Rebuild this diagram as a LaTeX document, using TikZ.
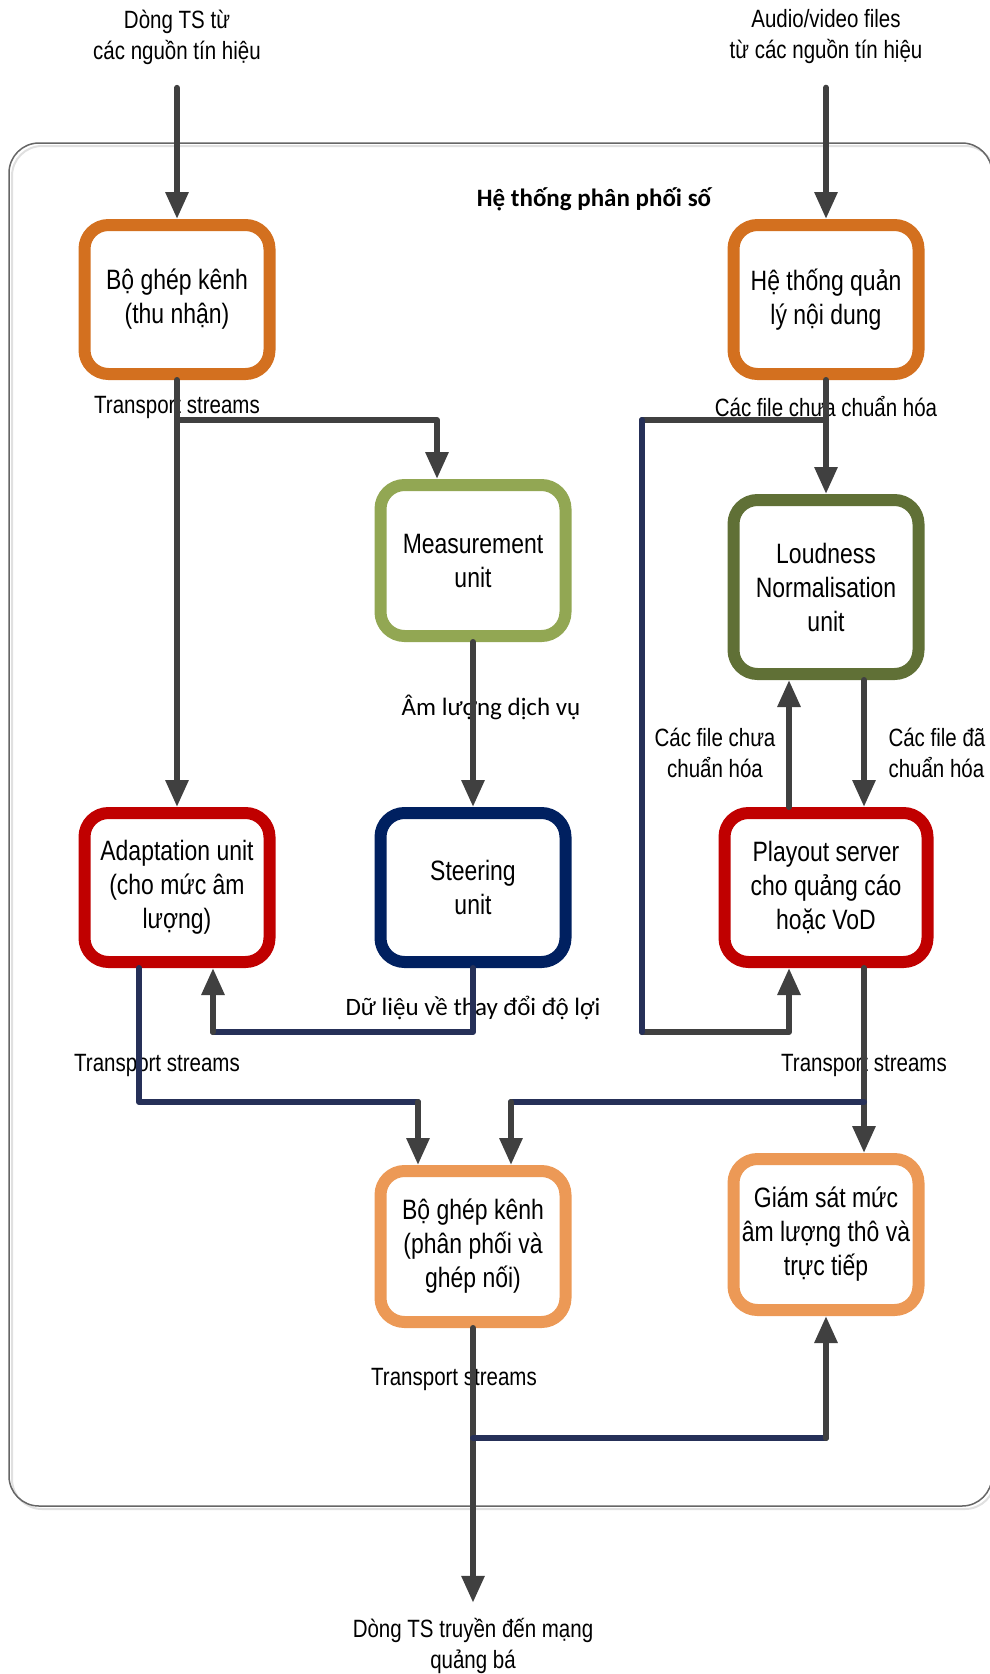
\documentclass[tikz,border=0pt]{standalone}
\usepackage{fontspec}
\setmainfont{Liberation Sans}[FakeStretch=0.82]
\newfontfamily\calibfont{Carlito}
\usetikzlibrary{arrows.meta,shadows}
\definecolor{darkorange}{RGB}{211,112,31}
\definecolor{lightorange}{RGB}{236,153,86}
\definecolor{lightolive}{RGB}{146,167,83}
\definecolor{darkolive}{RGB}{96,112,54}
\definecolor{boxred}{RGB}{192,0,0}
\definecolor{boxnavy}{RGB}{0,32,96}
\definecolor{linegray}{RGB}{64,64,64}
\definecolor{linenavy}{RGB}{38,48,88}
\begin{document}
\begin{tikzpicture}[x=1pt,y=-1pt,
    unit/.style={draw, rounded corners=24pt, line width=12pt, fill=white,
        minimum width=185pt, minimum height=149pt, align=center,
        font=\fontsize{28}{34}\selectfont,
        drop shadow={shadow xshift=4pt, shadow yshift=-4pt, opacity=0.12}},
    lbl/.style={align=center, font=\fontsize{25}{31}\selectfont},
    clbl/.style={font=\calibfont\fontsize{25}{30}\selectfont},
    flow/.style={line width=6pt, draw=linegray, line cap=round, line join=round,
        -{Triangle[length=27pt,width=22pt]}},
    feed/.style={line width=6pt, draw=linenavy, line cap=round, line join=round}
]
\useasboundingbox (0,0) rectangle (989,1674);
\draw[draw=black!12, line width=2pt, rounded corners=30pt] (12,146) rectangle (995,1509);
\draw[draw=black!60, line width=1.5pt, rounded corners=30pt] (9,143) rectangle (992,1506);

\node[lbl] (srcts) at (177,37) {Dòng TS từ\\các nguồn tín hiệu};
\node[lbl] (srcav) at (826,37) {Audio/video files\\từ các nguồn tín hiệu};
\node[font=\calibfont\bfseries\fontsize{25}{30}\selectfont] (title) at (594,199) {Hệ thống phân phối số};

\node[unit, draw=darkorange] (muxin) at (177,299.5) {Bộ ghép kênh\\(thu nhận)};
\node[unit, draw=darkorange] (cms) at (826,299.5) {Hệ thống quản\\lý nội dung};
\node[unit, draw=lightolive, minimum height=151pt] (meas) at (473,560.5) {Measurement\\unit};
\node[unit, draw=darkolive, minimum height=174pt] (loud) at (826,587) {Loudness\\Normalisation\\unit};
\node[unit, draw=boxred] (adapt) at (177,887.5) {Adaptation unit\\(cho mức âm\\lượng)};
\node[unit, draw=boxnavy] (steer) at (473,887.5) {Steering\\unit};
\node[unit, draw=boxred, minimum width=203pt] (playout) at (826,887.5) {Playout server\\cho quảng cáo\\hoặc VoD};
\node[unit, draw=lightorange, minimum height=151pt] (muxout) at (473,1246.5) {Bộ ghép kênh\\(phân phối và\\ghép nối)};
\node[unit, draw=lightorange, minimum height=151pt] (monitor) at (826,1234.5) {Giám sát mức\\âm lượng thô và\\trực tiếp};
\node[lbl] (dest) at (473,1646) {Dòng TS truyền đến mạng\\quảng bá};

\node[lbl] (tsa) at (177,407) {Transport streams};
\node[lbl] (rawa) at (826,407) {Các file chưa chuẩn hóa};
\node[clbl] (level) at (491,707) {Âm lượng dịch vụ};
\node[lbl] (rawb) at (715,753) {Các file chưa\\chuẩn hóa};
\node[lbl, align=left, anchor=west] (normd) at (885,753) {Các file đã\\chuẩn hóa};
\node[clbl] (gain) at (473,1008) {Dữ liệu về thay đổi độ lợi};
\node[lbl] (tsb) at (157,1065) {Transport streams};
\node[lbl] (tsc) at (864,1065) {Transport streams};
\node[lbl] (tsd) at (454,1379) {Transport streams};

\coordinate (tsfork) at (177,420);
\coordinate (cmsfork) at (826,420);
\coordinate (cmsleft) at (642,420);
\coordinate (cmsbottom) at (642,1032);
\coordinate (steerdown) at (473,1032);
\coordinate (steerleft) at (213,1032);
\coordinate (adaptdown) at (139,1102);
\coordinate (adaptright) at (418,1102);
\coordinate (playfork) at (864,1102);
\coordinate (playleft) at (511,1102);
\coordinate (outfork) at (473,1438);
\coordinate (outright) at (826,1438);

\draw[flow, shorten <=20pt] (srcts) -- (muxin);
\draw[flow, shorten <=20pt] (srcav) -- (cms);
\draw[flow] (muxin) -- (adapt);
\draw[flow] (tsfork) -| ([xshift=-36pt]meas.north);
\draw[flow] (cms) -- (loud);
\draw[flow] (cmsfork) -- (cmsleft) -- (cmsbottom) -| ([xshift=-37pt]playout.south);
\draw[feed] (cmsleft) -- (cmsbottom);
\draw[flow] ([xshift=-37pt]playout.north) -- ([xshift=-37pt]loud.south);
\draw[flow] ([xshift=38pt]loud.south) -- ([xshift=38pt]playout.north);
\draw[flow] (meas) -- (steer);
\draw[feed] (steer) -- (steerdown) -- (steerleft);
\draw[flow] (steerleft) -- ([xshift=36pt]adapt.south);
\draw[feed] ([xshift=-38pt]adapt.south) -- (adaptdown) -- (adaptright);
\draw[flow] (adaptright) -- ([xshift=-55pt]muxout.north);
\draw[flow] ([xshift=38pt]playout.south) -- ([xshift=38pt]monitor.north);
\draw[feed] (playfork) -- (playleft);
\draw[flow] (playleft) -- ([xshift=38pt]muxout.north);
\draw[flow, shorten >=12pt] (muxout) -- (dest);
\draw[feed] (outfork) -- (outright);
\draw[flow] (outright) -- (monitor.south);
\end{tikzpicture}
\end{document}
